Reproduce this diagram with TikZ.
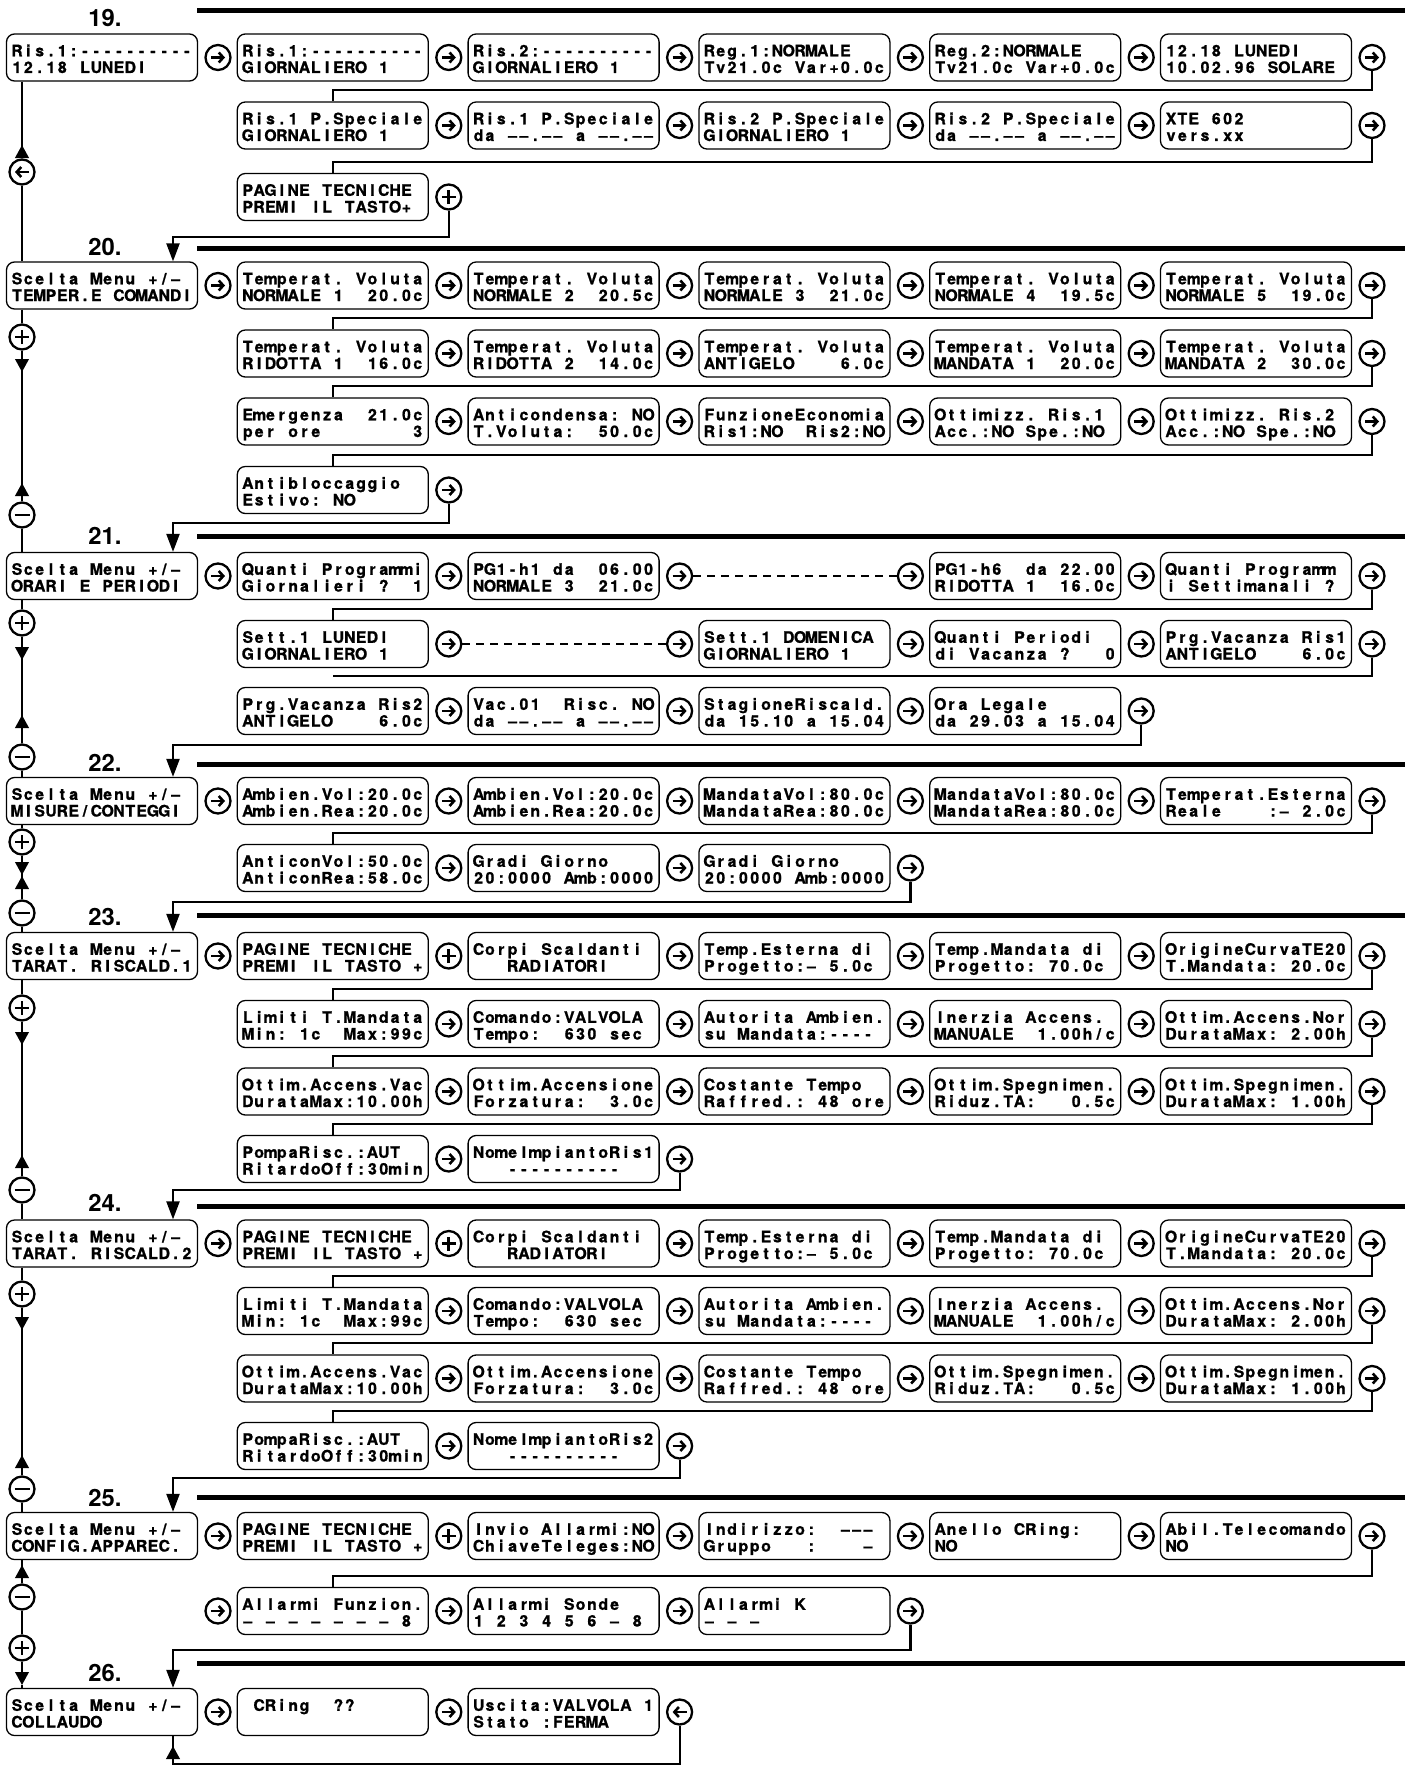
\documentclass[tikz,border=0pt]{standalone}
\usepackage{fontspec}
\newfontfamily\lcdfont[BoldFeatures={FakeBold=1}]{TeX Gyre Heros}
\newfontfamily\hdfont{TeX Gyre Heros}
\usetikzlibrary{arrows.meta,calc}
\newlength\lcdpitch
\setlength\lcdpitch{11.33pt}
\ExplSyntaxOn
\NewDocumentCommand\lcdline{m}{
  \hbox_to_wd:nn {\lcdpitch*16} {
    \str_map_inline:nn {#1} {
      \str_if_eq:nnTF {##1} {_}
        { \hbox_to_wd:nn {\lcdpitch} { } }
        { \hbox_to_wd:nn {\lcdpitch} { \hss ##1 \hss } }
    }
    \hfil
  }
}
\ExplSyntaxOff
\newcommand\lcdtwo[2]{\setbox0=\vbox{\baselineskip=16.7pt\lineskiplimit=-50pt\lineskip=0pt\hbox{\rule{0pt}{17pt}\lcdline{#1}}\hbox{\lcdline{#2}}}\dp0=2.7pt\box0}
\newcommand\LBX[4]{\node[lcd] (#1) at #2 {\lcdtwo{#3}{#4}};}
\newcommand\CIR[3]{\node[#1] (#2) at #3 {};}
\begin{document}
\begin{tikzpicture}[x=1pt,y=-1pt,
  lcd/.style={draw, line width=1.3pt, rounded corners=8pt, minimum width=191pt, minimum height=47pt, inner sep=0pt, font=\lcdfont\bfseries\fontsize{15.8pt}{16.7pt}\selectfont},
  circ/.style={circle, draw, line width=2.3pt, minimum size=25pt, inner sep=0pt},
  rc/.style={circ, path picture={\draw[line width=2.6pt,-{Straight Barb[length=4.5pt,width=10pt]}] ([xshift=-7pt]path picture bounding box.center) -- ([xshift=7pt]path picture bounding box.center);}},
  lc/.style={circ, path picture={\draw[line width=2.6pt,-{Straight Barb[length=4.5pt,width=10pt]}] ([xshift=7pt]path picture bounding box.center) -- ([xshift=-7pt]path picture bounding box.center);}},
  pc/.style={circ, path picture={\draw[line width=2.7pt] ([xshift=-7pt]path picture bounding box.center) -- ([xshift=7pt]path picture bounding box.center) ([yshift=-7pt]path picture bounding box.center) -- ([yshift=7pt]path picture bounding box.center);}},
  mc/.style={circ, path picture={\draw[line width=2.7pt] ([xshift=-7.5pt]path picture bounding box.center) -- ([xshift=7.5pt]path picture bounding box.center);}},
  conn/.style={line width=2.2pt},
  ent/.style={conn, -{Triangle[length=18pt,width=13pt]}},
  tri/.style={conn, -{Triangle[length=13pt,width=13.5pt]}},
  dline/.style={conn, dash pattern=on 8pt off 6pt},
  hl/.style={line width=5pt},
  hn/.style={inner sep=0pt, font=\hdfont\bfseries\fontsize{23.8pt}{28pt}\selectfont}
]
\fill[white] (0,0) rectangle (1411,1774);
\useasboundingbox (0,0) rectangle (1411,1774);
\coordinate (L) at (22,0);
% ================= 19
\node[hn] (h19) at (105,18) {19.};
\draw[hl] (197,10.5) -- (1405,10.5);
\LBX{b19}{(102,57.5)}{Ris.1:----------}{12.18 LUNEDI}
\CIR{rc}{k19a1}{(218,57.5)}
\LBX{b19a2}{(332.8,57.5)}{Ris.1:----------}{GIORNALIERO 1}
\CIR{rc}{k19a2}{(448.8,57.5)}
\LBX{b19a3}{(563.6,57.5)}{Ris.2:----------}{GIORNALIERO 1}
\CIR{rc}{k19a3}{(679.6,57.5)}
\LBX{b19a4}{(794.4,57.5)}{Reg.1:NORMALE}{Tv21.0c Var+0.0c}
\CIR{rc}{k19a4}{(910.4,57.5)}
\LBX{b19a5}{(1025.2,57.5)}{Reg.2:NORMALE}{Tv21.0c Var+0.0c}
\CIR{rc}{k19a5}{(1141.2,57.5)}
\LBX{b19a6}{(1256,57.5)}{12.18 LUNEDI}{10.02.96 SOLARE}
\CIR{rc}{k19a6}{(1372,57.5)}
\LBX{b19b2}{(332.8,125.5)}{Ris.1 P.Speciale}{GIORNALIERO 1}
\CIR{rc}{k19b2}{(448.8,125.5)}
\LBX{b19b3}{(563.6,125.5)}{Ris.1 P.Speciale}{da ––.–– a ––.––}
\CIR{rc}{k19b3}{(679.6,125.5)}
\LBX{b19b4}{(794.4,125.5)}{Ris.2 P.Speciale}{GIORNALIERO 1}
\CIR{rc}{k19b4}{(910.4,125.5)}
\LBX{b19b5}{(1025.2,125.5)}{Ris.2 P.Speciale}{da ––.–– a ––.––}
\CIR{rc}{k19b5}{(1141.2,125.5)}
\LBX{b19b6}{(1256,125.5)}{XTE 602}{vers.xx}
\CIR{rc}{k19b6}{(1372,125.5)}
\LBX{b19c2}{(332.8,197)}{PAGINE TECNICHE}{PREMI IL TASTO+}
\CIR{pc}{k19c2}{(448.8,197)}
\draw[conn] (k19a6.south) |- ($(b19b2.north)+(0,-11)$) -- (b19b2.north);
\draw[conn] (k19b6.south) |- ($(b19c2.north)+(0,-11)$) -- (b19c2.north);
% ================= 20
\node[hn] (h20) at (105,247) {20.};
\draw[hl] (197,248) -- (1405,248);
\LBX{b20}{(102,285.5)}{Scelta Menu +/–}{TEMPER.E COMANDI}
\CIR{rc}{k20a1}{(218,285.5)}
\LBX{b20a2}{(332.8,285.5)}{Temperat. Voluta}{NORMALE 1__20.0c}
\CIR{rc}{k20a2}{(448.8,285.5)}
\LBX{b20a3}{(563.6,285.5)}{Temperat. Voluta}{NORMALE 2__20.5c}
\CIR{rc}{k20a3}{(679.6,285.5)}
\LBX{b20a4}{(794.4,285.5)}{Temperat. Voluta}{NORMALE 3__21.0c}
\CIR{rc}{k20a4}{(910.4,285.5)}
\LBX{b20a5}{(1025.2,285.5)}{Temperat. Voluta}{NORMALE 4__19.5c}
\CIR{rc}{k20a5}{(1141.2,285.5)}
\LBX{b20a6}{(1256,285.5)}{Temperat. Voluta}{NORMALE 5__19.0c}
\CIR{rc}{k20a6}{(1372,285.5)}
\LBX{b20b2}{(332.8,353.5)}{Temperat. Voluta}{RIDOTTA 1__16.0c}
\CIR{rc}{k20b2}{(448.8,353.5)}
\LBX{b20b3}{(563.6,353.5)}{Temperat. Voluta}{RIDOTTA 2__14.0c}
\CIR{rc}{k20b3}{(679.6,353.5)}
\LBX{b20b4}{(794.4,353.5)}{Temperat. Voluta}{ANTIGELO____6.0c}
\CIR{rc}{k20b4}{(910.4,353.5)}
\LBX{b20b5}{(1025.2,353.5)}{Temperat. Voluta}{MANDATA 1__20.0c}
\CIR{rc}{k20b5}{(1141.2,353.5)}
\LBX{b20b6}{(1256,353.5)}{Temperat. Voluta}{MANDATA 2__30.0c}
\CIR{rc}{k20b6}{(1372,353.5)}
\LBX{b20c2}{(332.8,421.5)}{Emergenza__21.0c}{per ore________3}
\CIR{rc}{k20c2}{(448.8,421.5)}
\LBX{b20c3}{(563.6,421.5)}{Anticondensa: NO}{T.Voluta:__50.0c}
\CIR{rc}{k20c3}{(679.6,421.5)}
\LBX{b20c4}{(794.4,421.5)}{FunzioneEconomia}{Ris1:NO__Ris2:NO}
\CIR{rc}{k20c4}{(910.4,421.5)}
\LBX{b20c5}{(1025.2,421.5)}{Ottimizz. Ris.1}{Acc.:NO Spe.:NO}
\CIR{rc}{k20c5}{(1141.2,421.5)}
\LBX{b20c6}{(1256,421.5)}{Ottimizz. Ris.2}{Acc.:NO Spe.:NO}
\CIR{rc}{k20c6}{(1372,421.5)}
\LBX{b20d2}{(332.8,490)}{Antibloccaggio}{Estivo: NO}
\CIR{rc}{k20d2}{(448.8,490)}
\draw[conn] (k20a6.south) |- ($(b20b2.north)+(0,-11)$) -- (b20b2.north);
\draw[conn] (k20b6.south) |- ($(b20c2.north)+(0,-11)$) -- (b20c2.north);
\draw[conn] (k20c6.south) |- ($(b20d2.north)+(0,-11)$) -- (b20d2.north);
% left 19-20
\node[lc] (l19) at (22,172) {};
\coordinate (t19) at (22,145);
\draw[conn] (b19.south -| L) -- (l19.north);
\draw[tri] (l19.north) -- (t19);
\draw[conn] (l19.south) -- (b20.north -| L);
\coordinate (j19) at (173,237);
\draw[ent] (k19c2.south) |- (j19) -- (b20.north -| j19);
% ================= 21
\node[hn] (h21) at (105,536) {21.};
\draw[hl] (197,536) -- (1405,536);
\LBX{b21}{(102,576)}{Scelta Menu +/–}{ORARI E PERIODI}
\CIR{rc}{k21a1}{(218,576)}
\LBX{b21a2}{(332.8,576)}{Quanti Programmi}{Giornalieri ?__1}
\CIR{rc}{k21a2}{(448.8,576)}
\LBX{b21a3}{(563.6,576)}{PG1-h1 da__06.00}{NORMALE 3__21.0c}
\CIR{rc}{k21a3}{(679.6,576)}
\CIR{rc}{k21a4}{(910.4,576)}
\LBX{b21a5}{(1025.2,576)}{PG1-h6__da 22.00}{RIDOTTA 1__16.0c}
\CIR{rc}{k21a5}{(1141.2,576)}
\LBX{b21a6}{(1256,576)}{Quanti Programm}{i Settimanali ?}
\CIR{rc}{k21a6}{(1372,576)}
\LBX{b21b2}{(332.8,644)}{Sett.1 LUNEDI}{GIORNALIERO 1}
\CIR{rc}{k21b2}{(448.8,644)}
\CIR{rc}{k21b3}{(679.6,644)}
\LBX{b21b4}{(794.4,644)}{Sett.1 DOMENICA}{GIORNALIERO 1}
\CIR{rc}{k21b4}{(910.4,644)}
\LBX{b21b5}{(1025.2,644)}{Quanti Periodi}{di Vacanza ?___0}
\CIR{rc}{k21b5}{(1141.2,644)}
\LBX{b21b6}{(1256,644)}{Prg.Vacanza Ris1}{ANTIGELO____6.0c}
\CIR{rc}{k21b6}{(1372,644)}
\LBX{b21c2}{(332.8,711)}{Prg.Vacanza Ris2}{ANTIGELO____6.0c}
\CIR{rc}{k21c2}{(448.8,711)}
\LBX{b21c3}{(563.6,711)}{Vac.01__Risc. NO}{da ––.–– a ––.––}
\CIR{rc}{k21c3}{(679.6,711)}
\LBX{b21c4}{(794.4,711)}{StagioneRiscald.}{da 15.10 a 15.04}
\CIR{rc}{k21c4}{(910.4,711)}
\LBX{b21c5}{(1025.2,711)}{Ora Legale}{da 29.03 a 15.04}
\CIR{rc}{k21c5}{(1141.2,711)}
\draw[dline] (k21a3.east) -- (k21a4.west);
\draw[dline] (k21b2.east) -- (k21b3.west);
\draw[conn] (k21a6.south) |- ($(b21b2.north)+(0,-11)$) -- (b21b2.north);
\draw[conn] (k21b6.south) |- ($(b21c2.north)+(0,-11)$);
% left 20-21
\node[pc] (p20) at (22,337) {};
\node[mc] (m20) at (22,515) {};
\coordinate (d20) at (22,372);
\coordinate (u20) at (22,483);
\draw[conn] (b20.south -| L) -- (p20.north);
\draw[conn] (p20.south) -- (m20.north);
\draw[tri] (p20.south) -- (d20);
\draw[tri] (m20.north) -- (u20);
\draw[conn] (m20.south) -- (b21.north -| L);
\coordinate (j20) at (173,523);
\draw[ent] (k20d2.south) |- (j20) -- (b21.north -| j20);
% ================= 22
\node[hn] (h22) at (105,763) {22.};
\draw[hl] (197,764) -- (1405,764);
\LBX{b22}{(102,801)}{Scelta Menu +/–}{MISURE/CONTEGGI}
\CIR{rc}{k22a1}{(218,801)}
\LBX{b22a2}{(332.8,801)}{Ambien.Vol:20.0c}{Ambien.Rea:20.0c}
\CIR{rc}{k22a2}{(448.8,801)}
\LBX{b22a3}{(563.6,801)}{Ambien.Vol:20.0c}{Ambien.Rea:20.0c}
\CIR{rc}{k22a3}{(679.6,801)}
\LBX{b22a4}{(794.4,801)}{MandataVol:80.0c}{MandataRea:80.0c}
\CIR{rc}{k22a4}{(910.4,801)}
\LBX{b22a5}{(1025.2,801)}{MandataVol:80.0c}{MandataRea:80.0c}
\CIR{rc}{k22a5}{(1141.2,801)}
\LBX{b22a6}{(1256,801)}{Temperat.Esterna}{Reale____:– 2.0c}
\CIR{rc}{k22a6}{(1372,801)}
\LBX{b22b2}{(332.8,868)}{AnticonVol:50.0c}{AnticonRea:58.0c}
\CIR{rc}{k22b2}{(448.8,868)}
\LBX{b22b3}{(563.6,868)}{Gradi Giorno}{20:0000 Amb:0000}
\CIR{rc}{k22b3}{(679.6,868)}
\LBX{b22b4}{(794.4,868)}{Gradi Giorno}{20:0000 Amb:0000}
\CIR{rc}{k22b4}{(910.4,868)}
\draw[conn] (k22a6.south) |- ($(b22b2.north)+(0,-11)$) -- (b22b2.north);
% left 21-22
\node[pc] (p21) at (22,623) {};
\node[mc] (m21) at (22,757) {};
\coordinate (d21) at (22,660);
\coordinate (u21) at (22,715);
\draw[conn] (b21.south -| L) -- (p21.north);
\draw[conn] (p21.south) -- (m21.north);
\draw[tri] (p21.south) -- (d21);
\draw[tri] (m21.north) -- (u21);
\draw[conn] (m21.south) -- (b22.north -| L);
\coordinate (j21) at (173,745);
\draw[ent] (k21c5.south) |- (j21) -- (b22.north -| j21);
% ================= 23
\node[hn] (h23) at (105,917) {23.};
\draw[hl] (197,915) -- (1405,915);
\LBX{b23}{(102,956)}{Scelta Menu +/–}{TARAT. RISCALD.1}
\CIR{rc}{k23a1}{(218,956)}
\LBX{b23a2}{(332.8,956)}{PAGINE TECNICHE}{PREMI IL TASTO +}
\CIR{pc}{k23a2}{(448.8,956)}
\LBX{b23a3}{(563.6,956)}{Corpi Scaldanti}{___RADIATORI}
\CIR{rc}{k23a3}{(679.6,956)}
\LBX{b23a4}{(794.4,956)}{Temp.Esterna di}{Progetto:– 5.0c}
\CIR{rc}{k23a4}{(910.4,956)}
\LBX{b23a5}{(1025.2,956)}{Temp.Mandata di}{Progetto: 70.0c}
\CIR{rc}{k23a5}{(1141.2,956)}
\LBX{b23a6}{(1256,956)}{OrigineCurvaTE20}{T.Mandata: 20.0c}
\CIR{rc}{k23a6}{(1372,956)}
\LBX{b23b2}{(332.8,1024)}{Limiti T.Mandata}{Min: 1c__Max:99c}
\CIR{rc}{k23b2}{(448.8,1024)}
\LBX{b23b3}{(563.6,1024)}{Comando:VALVOLA}{Tempo:__630 sec}
\CIR{rc}{k23b3}{(679.6,1024)}
\LBX{b23b4}{(794.4,1024)}{Autorita Ambien.}{su Mandata:----}
\CIR{rc}{k23b4}{(910.4,1024)}
\LBX{b23b5}{(1025.2,1024)}{Inerzia Accens.}{MANUALE__1.00h/c}
\CIR{rc}{k23b5}{(1141.2,1024)}
\LBX{b23b6}{(1256,1024)}{Ottim.Accens.Nor}{DurataMax: 2.00h}
\CIR{rc}{k23b6}{(1372,1024)}
\LBX{b23c2}{(332.8,1091.5)}{Ottim.Accens.Vac}{DurataMax:10.00h}
\CIR{rc}{k23c2}{(448.8,1091.5)}
\LBX{b23c3}{(563.6,1091.5)}{Ottim.Accensione}{Forzatura:__3.0c}
\CIR{rc}{k23c3}{(679.6,1091.5)}
\LBX{b23c4}{(794.4,1091.5)}{Costante Tempo}{Raffred.: 48 ore}
\CIR{rc}{k23c4}{(910.4,1091.5)}
\LBX{b23c5}{(1025.2,1091.5)}{Ottim.Spegnimen.}{Riduz.TA:___0.5c}
\CIR{rc}{k23c5}{(1141.2,1091.5)}
\LBX{b23c6}{(1256,1091.5)}{Ottim.Spegnimen.}{DurataMax: 1.00h}
\CIR{rc}{k23c6}{(1372,1091.5)}
\LBX{b23d2}{(332.8,1159)}{PompaRisc.:AUT}{RitardoOff:30min}
\CIR{rc}{k23d2}{(448.8,1159)}
\LBX{b23d3}{(563.6,1159)}{NomeImpiantoRis1}{___----------}
\CIR{rc}{k23d3}{(679.6,1159)}
\draw[conn] (k23a6.south) |- ($(b23b2.north)+(0,-11)$) -- (b23b2.north);
\draw[conn] (k23b6.south) |- ($(b23c2.north)+(0,-11)$) -- (b23c2.north);
\draw[conn] (k23c6.south) |- ($(b23d2.north)+(0,-11)$) -- (b23d2.north);
% left 22-23
\node[pc] (p22) at (22,842) {};
\node[mc] (m22) at (22,913) {};
\coordinate (d22) at (22,875);
\coordinate (u22) at (22,876);
\draw[conn] (b22.south -| L) -- (p22.north);
\draw[conn] (p22.south) -- (m22.north);
\draw[tri] (p22.south) -- (d22);
\draw[tri] (m22.north) -- (u22);
\draw[conn] (m22.south) -- (b23.north -| L);
\coordinate (j22) at (173,902);
\draw[ent] (k22b4.south) |- (j22) -- (b23.north -| j22);
% ================= 24
\node[hn] (h24) at (105,1203) {24.};
\draw[hl] (197,1206) -- (1405,1206);
\LBX{b24}{(102,1243.5)}{Scelta Menu +/–}{TARAT. RISCALD.2}
\CIR{rc}{k24a1}{(218,1243.5)}
\LBX{b24a2}{(332.8,1243.5)}{PAGINE TECNICHE}{PREMI IL TASTO +}
\CIR{pc}{k24a2}{(448.8,1243.5)}
\LBX{b24a3}{(563.6,1243.5)}{Corpi Scaldanti}{___RADIATORI}
\CIR{rc}{k24a3}{(679.6,1243.5)}
\LBX{b24a4}{(794.4,1243.5)}{Temp.Esterna di}{Progetto:– 5.0c}
\CIR{rc}{k24a4}{(910.4,1243.5)}
\LBX{b24a5}{(1025.2,1243.5)}{Temp.Mandata di}{Progetto: 70.0c}
\CIR{rc}{k24a5}{(1141.2,1243.5)}
\LBX{b24a6}{(1256,1243.5)}{OrigineCurvaTE20}{T.Mandata: 20.0c}
\CIR{rc}{k24a6}{(1372,1243.5)}
\LBX{b24b2}{(332.8,1311)}{Limiti T.Mandata}{Min: 1c__Max:99c}
\CIR{rc}{k24b2}{(448.8,1311)}
\LBX{b24b3}{(563.6,1311)}{Comando:VALVOLA}{Tempo:__630 sec}
\CIR{rc}{k24b3}{(679.6,1311)}
\LBX{b24b4}{(794.4,1311)}{Autorita Ambien.}{su Mandata:----}
\CIR{rc}{k24b4}{(910.4,1311)}
\LBX{b24b5}{(1025.2,1311)}{Inerzia Accens.}{MANUALE__1.00h/c}
\CIR{rc}{k24b5}{(1141.2,1311)}
\LBX{b24b6}{(1256,1311)}{Ottim.Accens.Nor}{DurataMax: 2.00h}
\CIR{rc}{k24b6}{(1372,1311)}
\LBX{b24c2}{(332.8,1378.5)}{Ottim.Accens.Vac}{DurataMax:10.00h}
\CIR{rc}{k24c2}{(448.8,1378.5)}
\LBX{b24c3}{(563.6,1378.5)}{Ottim.Accensione}{Forzatura:__3.0c}
\CIR{rc}{k24c3}{(679.6,1378.5)}
\LBX{b24c4}{(794.4,1378.5)}{Costante Tempo}{Raffred.: 48 ore}
\CIR{rc}{k24c4}{(910.4,1378.5)}
\LBX{b24c5}{(1025.2,1378.5)}{Ottim.Spegnimen.}{Riduz.TA:___0.5c}
\CIR{rc}{k24c5}{(1141.2,1378.5)}
\LBX{b24c6}{(1256,1378.5)}{Ottim.Spegnimen.}{DurataMax: 1.00h}
\CIR{rc}{k24c6}{(1372,1378.5)}
\LBX{b24d2}{(332.8,1446)}{PompaRisc.:AUT}{RitardoOff:30min}
\CIR{rc}{k24d2}{(448.8,1446)}
\LBX{b24d3}{(563.6,1446)}{NomeImpiantoRis2}{___----------}
\CIR{rc}{k24d3}{(679.6,1446)}
\draw[conn] (k24a6.south) |- ($(b24b2.north)+(0,-11)$) -- (b24b2.north);
\draw[conn] (k24b6.south) |- ($(b24c2.north)+(0,-11)$) -- (b24c2.north);
\draw[conn] (k24c6.south) |- ($(b24d2.north)+(0,-11)$) -- (b24d2.north);
% left 23-24
\node[pc] (p23) at (22,1008) {};
\node[mc] (m23) at (22,1190) {};
\coordinate (d23) at (22,1045);
\coordinate (u23) at (22,1155);
\draw[conn] (b23.south -| L) -- (p23.north);
\draw[conn] (p23.south) -- (m23.north);
\draw[tri] (p23.south) -- (d23);
\draw[tri] (m23.north) -- (u23);
\draw[conn] (m23.south) -- (b24.north -| L);
\coordinate (j23) at (173,1190);
\draw[ent] (k23d3.south) |- (j23) -- (b24.north -| j23);
% ================= 25
\node[hn] (h25) at (105,1498) {25.};
\draw[hl] (197,1497) -- (1405,1497);
\LBX{b25}{(102,1536)}{Scelta Menu +/–}{CONFIG.APPAREC.}
\CIR{rc}{k25a1}{(218,1536)}
\LBX{b25a2}{(332.8,1536)}{PAGINE TECNICHE}{PREMI IL TASTO +}
\CIR{pc}{k25a2}{(448.8,1536)}
\LBX{b25a3}{(563.6,1536)}{Invio Allarmi:NO}{ChiaveTeleges:NO}
\CIR{rc}{k25a3}{(679.6,1536)}
\LBX{b25a4}{(794.4,1536)}{Indirizzo:__–––}{Gruppo___:____–}
\CIR{rc}{k25a4}{(910.4,1536)}
\LBX{b25a5}{(1025.2,1536)}{Anello CRing:}{NO}
\CIR{rc}{k25a5}{(1141.2,1536)}
\LBX{b25a6}{(1256,1536)}{Abil.Telecomando}{NO}
\CIR{rc}{k25a6}{(1372,1536)}
\CIR{rc}{k25b1}{(218,1611)}
\LBX{b25b2}{(332.8,1611)}{Allarmi Funzion.}{– – – – – – – 8}
\CIR{rc}{k25b2}{(448.8,1611)}
\LBX{b25b3}{(563.6,1611)}{Allarmi Sonde}{1 2 3 4 5 6 – 8}
\CIR{rc}{k25b3}{(679.6,1611)}
\LBX{b25b4}{(794.4,1611)}{Allarmi K}{– – –}
\CIR{rc}{k25b4}{(910.4,1611)}
\draw[conn] (k25a6.south) |- ($(b25b2.north)+(0,-11)$) -- (b25b2.north);
% left 24-25
\node[pc] (p24) at (22,1294) {};
\node[mc] (m24) at (22,1489) {};
\coordinate (d24) at (22,1330);
\coordinate (u24) at (22,1455);
\draw[conn] (b24.south -| L) -- (p24.north);
\draw[conn] (p24.south) -- (m24.north);
\draw[tri] (p24.south) -- (d24);
\draw[tri] (m24.north) -- (u24);
\draw[conn] (m24.south) -- (b25.north -| L);
\coordinate (j24) at (173,1478);
\draw[ent] (k24d3.south) |- (j24) -- (b25.north -| j24);
% ================= 26
\node[hn] (h26) at (105,1673) {26.};
\draw[hl] (197,1663) -- (1405,1663);
\LBX{b26}{(102,1712)}{Scelta Menu +/–}{COLLAUDO}
\CIR{rc}{k26a1}{(218,1712)}
\LBX{b26a2}{(332.8,1712)}{_CRing__??}{}
\CIR{rc}{k26a2}{(448.8,1712)}
\LBX{b26a3}{(563.6,1712)}{Uscita:VALVOLA 1}{Stato :FERMA}
\CIR{lc}{k26a3}{(679.6,1712)}
% left 25-26
\node[mc] (m25) at (22,1597) {};
\node[pc] (p25) at (22,1648) {};
\coordinate (u25) at (22,1565);
\coordinate (d25) at (22,1685);
\draw[conn] (b25.south -| L) -- (m25.north);
\draw[tri] (m25.north) -- (u25);
\draw[conn] (m25.south) -- (p25.north);
\draw[tri] (p25.south) -- (d25);
\draw[conn] (d25) -- (b26.north -| L);
\coordinate (j25) at (173,1650);
\draw[ent] (k25b4.south) |- (j25) -- (b26.north -| j25);
\coordinate (j26) at (173,1764);
\coordinate (t26) at (173,1746);
\draw[conn] (k26a3.south) |- (j26) -- (b26.south -| j26);
\draw[tri] (j26) -- (t26);
\end{tikzpicture}
\end{document}
